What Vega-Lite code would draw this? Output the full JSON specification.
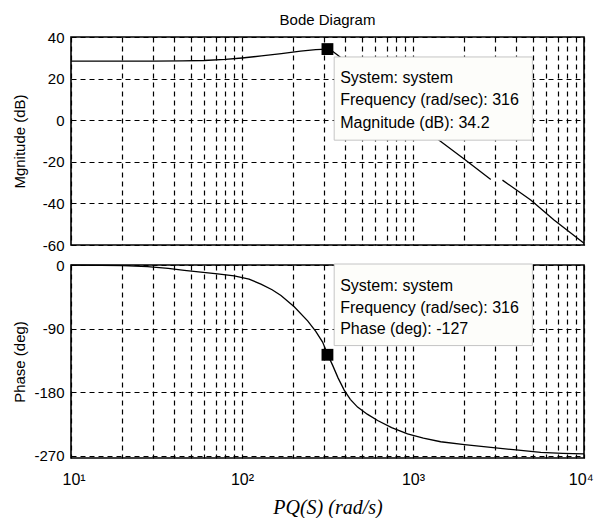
{
  "$schema": "https://vega.github.io/schema/vega-lite/v6.json",
  "padding": {"left": 11, "top": 12, "right": 0, "bottom": 0},
  "background": "white",
  "spacing": 3,
  "config": {
    "font": "Liberation Sans",
    "view": {"stroke": "#000", "strokeWidth": 1.6},
    "axis": {
      "domain": false,
      "ticks": false,
      "grid": true,
      "gridColor": "#000",
      "gridOpacity": 1,
      "gridWidth": 1.2,
      "gridDash": [5, 4],
      "labelColor": "#000",
      "titleColor": "#000",
      "labelFont": "Liberation Sans",
      "titleFont": "Liberation Sans",
      "labelFontSize": 15,
      "titleFontSize": 15,
      "titleFontWeight": "normal"
    }
  },
  "datasets": {
    "mag": [
      {"freq": 10, "db": 28.4, "seg": "a"},
      {"freq": 20, "db": 28.4, "seg": "a"},
      {"freq": 30, "db": 28.4, "seg": "a"},
      {"freq": 45, "db": 28.5, "seg": "a"},
      {"freq": 60, "db": 28.7, "seg": "a"},
      {"freq": 80, "db": 29.2, "seg": "a"},
      {"freq": 100, "db": 29.9, "seg": "a"},
      {"freq": 130, "db": 30.9, "seg": "a"},
      {"freq": 170, "db": 32.0, "seg": "a"},
      {"freq": 220, "db": 33.2, "seg": "a"},
      {"freq": 270, "db": 33.9, "seg": "a"},
      {"freq": 316, "db": 34.2, "seg": "a"},
      {"freq": 340, "db": 33.0, "seg": "a"},
      {"freq": 362, "db": 31.3, "seg": "a"},
      {"freq": 400, "db": 28.5, "seg": "a"},
      {"freq": 500, "db": 21.5, "seg": "a"},
      {"freq": 650, "db": 13.0, "seg": "a"},
      {"freq": 800, "db": 6.5, "seg": "a"},
      {"freq": 1000, "db": 0.0, "seg": "a"},
      {"freq": 1200, "db": -5.2, "seg": "a"},
      {"freq": 1421, "db": -9.6, "seg": "a"},
      {"freq": 1990, "db": -18.7, "seg": "a"},
      {"freq": 2850, "db": -28.5, "seg": "a"},
      {"freq": 3336, "db": -28.8, "seg": "b"},
      {"freq": 4880, "db": -38.4, "seg": "b"},
      {"freq": 6678, "db": -48.0, "seg": "b"},
      {"freq": 10000, "db": -59.2, "seg": "b"}
    ],
    "phase": [
      {"freq": 10, "deg": -0.2},
      {"freq": 15, "deg": -0.5},
      {"freq": 20, "deg": -1},
      {"freq": 28, "deg": -2.3},
      {"freq": 37, "deg": -4.7},
      {"freq": 46, "deg": -7.5},
      {"freq": 57.5, "deg": -10},
      {"freq": 72, "deg": -12.5},
      {"freq": 90, "deg": -15.5},
      {"freq": 110, "deg": -20},
      {"freq": 129, "deg": -27},
      {"freq": 150, "deg": -35},
      {"freq": 169, "deg": -43},
      {"freq": 202, "deg": -59},
      {"freq": 242, "deg": -79},
      {"freq": 270, "deg": -94},
      {"freq": 296, "deg": -109},
      {"freq": 316, "deg": -126},
      {"freq": 339, "deg": -142},
      {"freq": 365, "deg": -160},
      {"freq": 396, "deg": -177},
      {"freq": 430, "deg": -190},
      {"freq": 474, "deg": -201},
      {"freq": 540, "deg": -211},
      {"freq": 621, "deg": -220},
      {"freq": 750, "deg": -230},
      {"freq": 929, "deg": -239},
      {"freq": 1150, "deg": -245},
      {"freq": 1452, "deg": -250},
      {"freq": 2000, "deg": -254},
      {"freq": 2851, "deg": -258},
      {"freq": 4000, "deg": -261.5},
      {"freq": 5587, "deg": -265},
      {"freq": 7500, "deg": -266.5},
      {"freq": 10000, "deg": -267.3}
    ],
    "magBox": [{"f1": 346, "f2": 4990, "v1": 30.4, "v2": -9.6}],
    "phaseBox": [{"f1": 346, "f2": 4990, "v1": 1.4, "v2": -114}],
    "magNote": [
      {"f": 375, "v": 17.9, "label": "System: system"},
      {"f": 375, "v": 7.5, "label": "Frequency (rad/sec): 316"},
      {"f": 375, "v": -3.7, "label": "Magnitude (dB): 34.2"}
    ],
    "phaseNote": [
      {"f": 375, "v": -36.3, "label": "System: system"},
      {"f": 375, "v": -68.3, "label": "Frequency (rad/sec): 316"},
      {"f": 375, "v": -97.5, "label": "Phase (deg): -127"}
    ],
    "magPoint": [{"freq": 316, "db": 34.2}],
    "phasePoint": [{"freq": 316, "deg": -127}]
  },
  "vconcat": [
    {
      "width": 513,
      "height": 208,
      "title": {"text": "Bode Diagram", "fontSize": 15, "fontWeight": "normal", "font": "Liberation Sans", "color": "#000", "anchor": "middle", "frame": "group", "offset": 2},
      "layer": [
        {
          "data": {"name": "mag"},
          "mark": {"type": "line", "color": "#000", "strokeWidth": 1.3},
          "encoding": {
            "x": {"field": "freq", "type": "quantitative",
              "scale": {"type": "log", "domain": [10, 10000], "nice": false},
              "axis": {"values": [10,20,30,40,50,60,70,80,90,100,200,300,400,500,600,700,800,900,1000,2000,3000,4000,5000,6000,7000,8000,9000,10000],
                "labels": false, "title": null, "minExtent": 0, "maxExtent": 0}},
            "y": {"field": "db", "type": "quantitative",
              "scale": {"domain": [-60, 40], "nice": false, "zero": false},
              "axis": {"values": [-60, -40, -20, 0, 20, 40], "labelExpr": "'' + datum.value", "title": "Mgnitude (dB)", "labelPadding": 7, "minExtent": 38, "maxExtent": 38, "titlePadding": 6}},
            "detail": {"field": "seg"}
          }
        },
        {
          "data": {"name": "magBox"},
          "mark": {"type": "rect", "fill": "#fdfdfa", "stroke": "#c4c4c4", "strokeWidth": 1},
          "encoding": {
            "x": {"field": "f1", "type": "quantitative"},
            "x2": {"field": "f2"},
            "y": {"field": "v1", "type": "quantitative"},
            "y2": {"field": "v2"}
          }
        },
        {
          "data": {"name": "magNote"},
          "mark": {"type": "text", "align": "left", "baseline": "alphabetic", "fontSize": 16, "font": "Liberation Sans", "color": "#000"},
          "encoding": {
            "x": {"field": "f", "type": "quantitative"},
            "y": {"field": "v", "type": "quantitative"},
            "text": {"field": "label"}
          }
        },
        {
          "data": {"name": "magPoint"},
          "mark": {"type": "square", "size": 140, "filled": true, "color": "#000", "opacity": 1},
          "encoding": {
            "x": {"field": "freq", "type": "quantitative"},
            "y": {"field": "db", "type": "quantitative"}
          }
        }
      ]
    },
    {
      "width": 513,
      "height": 193,
      "layer": [
        {
          "data": {"name": "phase"},
          "mark": {"type": "line", "color": "#000", "strokeWidth": 1.3},
          "encoding": {
            "x": {"field": "freq", "type": "quantitative",
              "scale": {"type": "log", "domain": [10, 10000], "nice": false},
              "axis": {"values": [10,20,30,40,50,60,70,80,90,100,200,300,400,500,600,700,800,900,1000,2000,3000,4000,5000,6000,7000,8000,9000,10000],
                "labelExpr": "datum.value == 10 ? '10¹' : datum.value == 100 ? '10²' : datum.value == 1000 ? '10³' : datum.value == 10000 ? '10⁴' : ''",
                "labelOverlap": false, "labelFlush": true, "labelFlushOffset": 9, "labelPadding": 13, "labelFontSize": 16,
                "title": "PQ(S) (rad/s)", "titleFont": "Liberation Serif", "titleFontStyle": "italic", "titleFontSize": 20, "titlePadding": 10}},
            "y": {"field": "deg", "type": "quantitative",
              "scale": {"domain": [-273, 0], "nice": false, "zero": false},
              "axis": {"values": [-270, -180, -90, 0], "labelExpr": "'' + datum.value", "title": "Phase (deg)", "labelPadding": 7, "minExtent": 38, "maxExtent": 38, "titlePadding": 6}}
          }
        },
        {
          "data": {"name": "phaseBox"},
          "mark": {"type": "rect", "fill": "#fdfdfa", "stroke": "#c4c4c4", "strokeWidth": 1},
          "encoding": {
            "x": {"field": "f1", "type": "quantitative"},
            "x2": {"field": "f2"},
            "y": {"field": "v1", "type": "quantitative"},
            "y2": {"field": "v2"}
          }
        },
        {
          "data": {"name": "phaseNote"},
          "mark": {"type": "text", "align": "left", "baseline": "alphabetic", "fontSize": 16, "font": "Liberation Sans", "color": "#000"},
          "encoding": {
            "x": {"field": "f", "type": "quantitative"},
            "y": {"field": "v", "type": "quantitative"},
            "text": {"field": "label"}
          }
        },
        {
          "data": {"name": "phasePoint"},
          "mark": {"type": "square", "size": 140, "filled": true, "color": "#000", "opacity": 1},
          "encoding": {
            "x": {"field": "freq", "type": "quantitative"},
            "y": {"field": "deg", "type": "quantitative"}
          }
        }
      ]
    }
  ]
}
